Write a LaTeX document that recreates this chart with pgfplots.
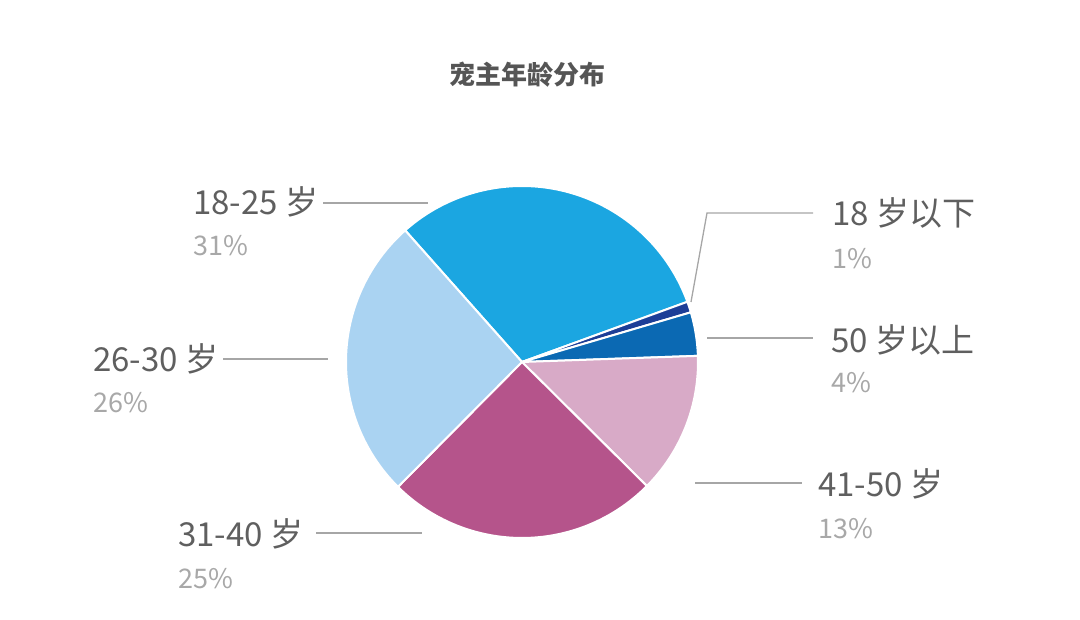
\documentclass[border=0pt]{standalone}
\usepackage{pgfplots}
\usepackage{pgfplotstable}
\pgfplotsset{compat=1.18}
\usepackage{fontspec}
\setmainfont{Noto Sans CJK SC}
\definecolor{cA}{HTML}{1BA6E1}
\definecolor{cB}{HTML}{1D3E97}
\definecolor{cC}{HTML}{0B69B3}
\definecolor{cD}{HTML}{D8AAC7}
\definecolor{cE}{HTML}{B5548B}
\definecolor{cF}{HTML}{AAD3F2}
\definecolor{labc}{HTML}{5F5F5F}
\definecolor{pctc}{HTML}{A8A8A8}
\definecolor{linec}{HTML}{A6A6A6}
\definecolor{titc}{HTML}{555555}
\pgfplotstableread{
idx value
0 31
1 1
2 4
3 13
4 25
5 26
}\piedata
\begin{document}
\begin{tikzpicture}
\pgfplotstablegetelem{0}{value}\of\piedata\let\vA\pgfplotsretval
\pgfplotstablegetelem{1}{value}\of\piedata\let\vB\pgfplotsretval
\pgfplotstablegetelem{2}{value}\of\piedata\let\vC\pgfplotsretval
\pgfplotstablegetelem{3}{value}\of\piedata\let\vD\pgfplotsretval
\pgfplotstablegetelem{4}{value}\of\piedata\let\vE\pgfplotsretval
\pgfplotstablegetelem{5}{value}\of\piedata\let\vF\pgfplotsretval
\pgfmathsetmacro\aO{131.6}
\pgfmathsetmacro\aA{\aO-\vA*3.6}
\pgfmathsetmacro\aB{\aA-\vB*3.6}
\pgfmathsetmacro\aC{\aB-\vC*3.6}
\pgfmathsetmacro\aD{\aC-\vD*3.6}
\pgfmathsetmacro\aE{\aD-\vE*3.6}
\pgfmathsetmacro\aF{\aE-\vF*3.6}
\begin{axis}[
  scale only axis, width=1080pt, height=620pt,
  xmin=0, xmax=1080, ymin=0, ymax=620,
  hide axis, clip=false,
]
\path (axis cs:0,0) rectangle (axis cs:1080,620);
\pgfplotsset{wedge/.style={draw=white, line width=2pt, samples=90, variable=\t}}
\addplot[wedge, fill=cA, domain=\aA:\aO] ({522+176*cos(\t)},{258+176*sin(\t)}) -- (axis cs:522,258) -- cycle;
\addplot[wedge, fill=cB, domain=\aB:\aA] ({522+176*cos(\t)},{258+176*sin(\t)}) -- (axis cs:522,258) -- cycle;
\addplot[wedge, fill=cC, domain=\aC:\aB] ({522+176*cos(\t)},{258+176*sin(\t)}) -- (axis cs:522,258) -- cycle;
\addplot[wedge, fill=cD, domain=\aD:\aC] ({522+176*cos(\t)},{258+176*sin(\t)}) -- (axis cs:522,258) -- cycle;
\addplot[wedge, fill=cE, domain=\aE:\aD] ({522+176*cos(\t)},{258+176*sin(\t)}) -- (axis cs:522,258) -- cycle;
\addplot[wedge, fill=cF, domain=\aF:\aE] ({522+176*cos(\t)},{258+176*sin(\t)}) -- (axis cs:522,258) -- cycle;
% label lines
\draw[linec, line width=1.3pt] (axis cs:323,417) -- (axis cs:428,417);
\draw[linec, line width=1.3pt] (axis cs:223,261) -- (axis cs:328,261);
\draw[linec, line width=1.3pt] (axis cs:316,87) -- (axis cs:422,87);
\draw[linec, line width=1.3pt] (axis cs:695,137) -- (axis cs:802,137);
\draw[linec, line width=1.3pt] (axis cs:707,282) -- (axis cs:813,282);
\draw[linec, line width=1.3pt] (axis cs:691,318) -- (axis cs:707,407) -- (axis cs:813,407);
% title
\node[anchor=base, text=titc, font=\fontsize{26}{30}\selectfont\bfseries] at (axis cs:527,535.5) {宠主年龄分布};
% labels
\tikzset{lab/.style={anchor=base west, inner sep=0pt, text=labc, font=\fontsize{33}{38}\selectfont},
         pct/.style={anchor=base west, inner sep=0pt, text=pctc, font=\fontsize{27}{32}\selectfont}}
\node[lab] at (axis cs:193,405) {18-25 岁};
\node[pct] at (axis cs:193,364) {31\%};
\node[lab] at (axis cs:93,248) {26-30 岁};
\node[pct] at (axis cs:93,207) {26\%};
\node[lab] at (axis cs:178,73) {31-40 岁};
\node[pct] at (axis cs:178,31) {25\%};
\node[lab] at (axis cs:818,123) {41-50 岁};
\node[pct] at (axis cs:818,81) {13\%};
\node[lab] at (axis cs:831,267) {50 岁以上};
\node[pct] at (axis cs:831,227) {4\%};
\node[lab] at (axis cs:832,394) {18 岁以下};
\node[pct] at (axis cs:832,351) {1\%};
\end{axis}
\end{tikzpicture}
\end{document}
